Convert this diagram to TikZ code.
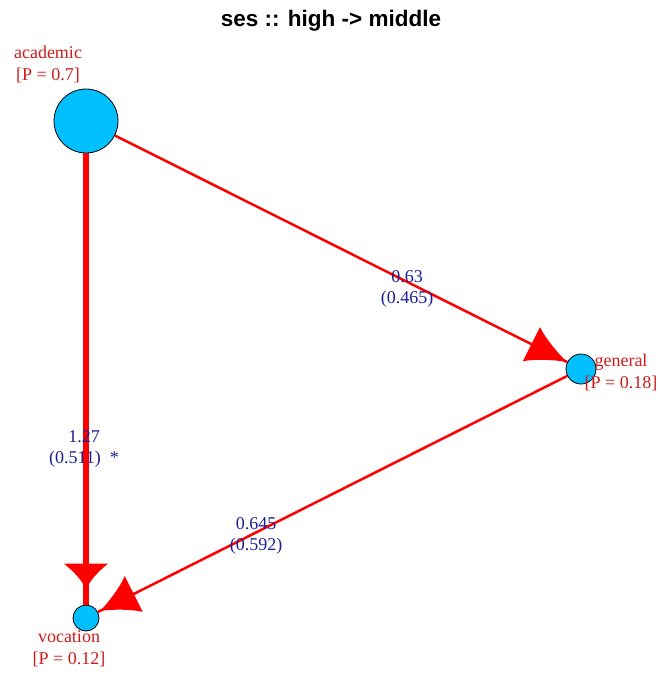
\documentclass[tikz,border=0pt]{standalone}
\usepackage{fontspec}
\setmainfont{Liberation Serif}
\newfontfamily\titleFont{Liberation Sans}
\usetikzlibrary{
  decorations.markings,
  calc
}
\definecolor{stateBlue}{HTML}{00BFFF}
\definecolor{linkRed}{HTML}{FF0000}
\definecolor{nameRed}{HTML}{D01C1C}
\definecolor{coefBlue}{HTML}{1E1E96}
% flared arrow head drawn in the mark's own frame
\newcommand{\flareTip}[3]{%
  \fill[linkRed] (0pt,0pt) .. controls (-0.3*#1,#3*#2) and (-0.7*#1,0.55*#2) .. (-#1,#2)
    -- (-#1,-#2) .. controls (-0.7*#1,-0.55*#2) and (-0.3*#1,-#3*#2) .. cycle;}
\tikzset{
  stateNode/.style={
    circle, draw=black, fill=stateBlue, line width=0.8pt, inner sep=0pt
  },
  nameLabel/.style={
    font=\fontsize{18}{22}\selectfont, text=nameRed, align=center,
    inner sep=0pt, anchor=base
  },
  coefLabel/.style={
    font=\fontsize{18}{21}\selectfont, text=coefBlue, align=center,
    inner sep=0pt, anchor=base
  },
  thinLink/.style={
    draw=linkRed, line width=2.5pt
  },
  thickLink/.style={
    draw=linkRed, line width=6.5pt
  },
  headAt/.style n args={4}{
    postaction={decorate},
    decoration={markings, mark=at position #1 with {\flareTip{#2}{#3}{#4}}}
  }
}

\begin{document}
\begin{tikzpicture}[x=1pt, y=-1pt]

\useasboundingbox[fill=white] (0,0) rectangle (664,675);

% ── Title ──────────────────────────────────────────────────────────
\node[anchor=base, inner sep=0pt, font=\titleFont\bfseries\fontsize{22.5}{26}\selectfont]
  (title) at (331,26) {ses :: high -> middle};

% ── States ─────────────────────────────────────────────────────────
\node[stateNode, minimum size=64pt] (academic) at (86,121) {};
\node[stateNode, minimum size=30pt] (general)  at (581,369) {};
\node[stateNode, minimum size=26pt] (vocation) at (86,618) {};

% base anchor sits on the second line
\node[nameLabel] (academicLbl) at (48,80)   {academic\\{}[P = 0.7]};
\node[nameLabel] (generalLbl)  at (621,388) {general\\{}[P = 0.18]};
\node[nameLabel] (vocationLbl) at (69,664)  {vocation\\{}[P = 0.12]};

% ── Transitions ────────────────────────────────────────────────────
\draw[thickLink, headAt={-14pt}{27pt}{22pt}{0.08}] (academic) -- (vocation);
\draw[thinLink, headAt={-1pt}{39pt}{19pt}{0.22}]   (academic) -- (general);
\draw[thinLink, headAt={-3pt}{37pt}{20pt}{0.22}]   (general) -- (vocation);

% ── Coefficients ───────────────────────────────────────────────────
\node[coefLabel] (acadGen)  at (407,303) {0.63\\(0.465)};
\node[coefLabel] (acadVoc)  at (84,463)  {1.27\\(0.511)~~*};
\node[coefLabel] (genVoc)   at (256,550) {0.645\\(0.592)};

\end{tikzpicture}
\end{document}
